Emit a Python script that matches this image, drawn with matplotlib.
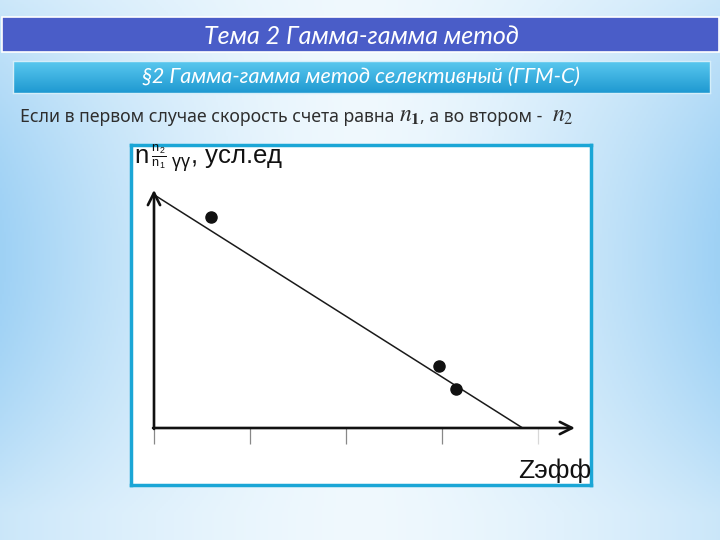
import numpy as np
import matplotlib
matplotlib.use("Agg")
import matplotlib.pyplot as plt
from matplotlib.patches import Rectangle

# ---- data ----
fit_x = [0.0, 3.84]          # regression line end points (Zэфф units)
fit_y = [2.43, 0.0]
pts_x = [0.59, 2.97, 3.15]   # measured points
pts_y = [2.20, 0.65, 0.41]
x_ticks = [0, 1, 2, 3, 4]

title = "Тема 2 Гамма-гамма метод"
subtitle = "§2 Гамма-гамма метод селективный (ГГМ-С)"
body_parts = ["Если в первом случае скорость счета равна ", r"$n_\mathbf{1}$",
              ", а во втором -  ", r"$n_2$"]
ylabel = r"n$\,\genfrac{}{}{0.5}{2}{\mathrm{n}_2}{\mathrm{n}_1}\,$$_\mathrm{γγ}$, усл.ед"
xlabel = "Zэфф"

plt.rcParams['mathtext.fontset'] = 'custom'
plt.rcParams['mathtext.rm'] = 'Liberation Sans'
plt.rcParams['mathtext.it'] = 'Liberation Sans:italic'
plt.rcParams['mathtext.bf'] = 'Liberation Sans:bold'

W, H = 720, 540
fig = plt.figure(figsize=(7.2, 5.4), dpi=100)

def fx(px):
    return px / W

def fy(py):
    return 1 - py / H

# ---- background gradient ----
bg = fig.add_axes([0, 0, 1, 1])
bg.axis('off')
xx = np.linspace(-1, 1, 360)
yy = np.linspace(0, 1, 270)
X, Y = np.meshgrid(xx, yy)
t = np.clip(np.abs(X) ** 1.5 * (0.45 + 0.55 * np.sin(np.pi * np.clip(Y * 1.05, 0, 1))), 0, 1)
light = np.array([0.94, 0.975, 0.995])
blue = np.array([0.62, 0.82, 0.96])
img = light + (blue - light) * t[..., None]
bg.imshow(img, extent=[0, 1, 0, 1], aspect='auto', origin='upper')
bg.set_xlim(0, 1)
bg.set_ylim(0, 1)

# ---- title band ----
fig.add_artist(Rectangle((fx(2), fy(52)), fx(719) - fx(2), fy(17) - fy(52),
                         transform=fig.transFigure, facecolor='#4a5dc8',
                         edgecolor='white', lw=1.2))
fig.text(fx(361), fy(36), title, color='white', fontsize=18, style='italic',
         family='Lato', ha='center', va='center')

# ---- subtitle band (vertical gradient) ----
sax = fig.add_axes([fx(13), fy(93), fx(710) - fx(13), fy(61) - fy(93)])
g = np.linspace(0, 1, 50)[:, None]
top = np.array([0.36, 0.79, 0.94])
bot = np.array([0.12, 0.60, 0.82])
grad = top + (bot - top) * g[..., None]
sax.imshow(np.repeat(grad, 2, axis=1), extent=[0, 1, 0, 1], aspect='auto', origin='upper')
sax.set_xticks([])
sax.set_yticks([])
for s in sax.spines.values():
    s.set_color('#d5eef9')
    s.set_linewidth(1)
fig.text(fx(361), fy(77), subtitle, color='white', fontsize=15.5, style='italic',
         family='Lato', ha='center', va='center')

# ---- body text (placed piece by piece) ----
renderer = fig.canvas.get_renderer()
x_px = 20.0
styles = [dict(fontsize=12.7, family='Noto Sans', color='#2e2e2e'),
          dict(fontsize=17, math_fontfamily='stix', color='#2e2e2e'),
          dict(fontsize=12.7, family='Noto Sans', color='#2e2e2e'),
          dict(fontsize=17, math_fontfamily='stix', color='#2e2e2e')]
for part, st in zip(body_parts, styles):
    tx = fig.text(fx(x_px), fy(122), part, va='baseline', ha='left', **st)
    bb = tx.get_window_extent(renderer)
    x_px += bb.width

# ---- chart ----
ax = fig.add_axes([fx(131), fy(485), fx(591) - fx(131), fy(145) - fy(485)])
ax.set_facecolor('white')
ax.set_xlim(-(154 - 131) / 96, (591 - 154) / 96)
ax.set_ylim((428 - 485) / 96, (428 - 145) / 96)
ax.set_xticks([])
ax.set_yticks([])
for s in ax.spines.values():
    s.set_color('#1ba6d6')
    s.set_linewidth(2.5)

tick_colors = ['#888888'] * (len(x_ticks) - 1) + ['#d8d8d8']
ax.vlines(x_ticks, -0.167, 0, colors=tick_colors, lw=0.9)

ax.annotate('', xy=(0, 2.48), xytext=(0, -0.01),
            arrowprops=dict(arrowstyle='->', lw=1.9, color='#111111', mutation_scale=22,
                            shrinkA=0, shrinkB=0))
ax.annotate('', xy=(4.385, 0), xytext=(-0.01, 0),
            arrowprops=dict(arrowstyle='->', lw=1.9, color='#111111', mutation_scale=22,
                            shrinkA=0, shrinkB=0))

ax.plot(fit_x, fit_y, color='#1a1a1a', lw=1.1)
ax.plot(pts_x, pts_y, 'o', color='#111111', ms=8)

fig.text(fx(134), fy(159), ylabel, fontsize=18.5, family='Liberation Sans',
         va='center', ha='left', math_fontfamily='custom', color='#111111')
fig.text(fx(591), fy(471), xlabel, fontsize=19, family='Liberation Sans',
         va='center', ha='right', color='#111111')

fig.savefig('out.png', dpi=100)
